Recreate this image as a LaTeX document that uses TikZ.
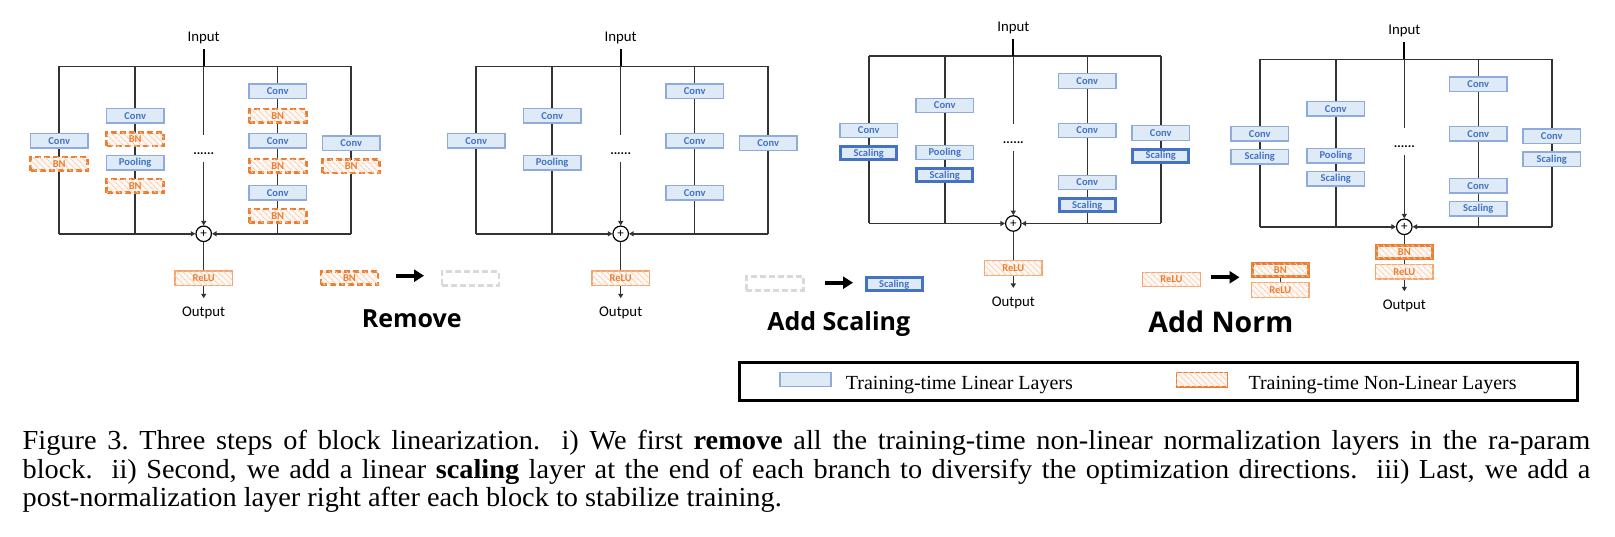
\documentclass[tikz,border=0pt]{standalone}
\usepackage{fontspec}
\setmainfont{Liberation Serif}
\newfontfamily\capfont[FakeStretch=1.03]{Liberation Serif}
\newfontfamily\calfont{Carlito}
\newfontfamily\segfont{Open Sans}
\usetikzlibrary{arrows.meta,patterns.meta}
\definecolor{linf}{HTML}{DEEBF7}
\definecolor{linb}{HTML}{8FAADC}
\definecolor{thickb}{HTML}{4472C4}
\definecolor{txtb}{HTML}{4472C4}
\definecolor{orng}{HTML}{ED7D31}
\definecolor{relub}{HTML}{F4A46E}
\definecolor{hatchbg}{HTML}{FFF9F5}
\definecolor{hatchc}{HTML}{F9D0B4}
\definecolor{wire}{HTML}{333333}
\definecolor{ghostc}{HTML}{D9D9D9}
\tikzset{
  wire/.style={draw=wire, line width=1.5},
  tip/.style={-{Triangle[width=5pt,length=4.5pt]}},
  bigarr/.style={line width=4, -{Triangle[width=12pt,length=10pt]}},
  lin/.style={draw=linb, fill=linf, line width=1.3, minimum width=57.5, minimum height=14.5,
    inner sep=0, text=txtb, font=\calfont\bfseries\fontsize{10.5}{12}\selectfont},
  linthick/.style={lin, draw=thickb, line width=3, minimum width=56, minimum height=13},
  nonlin/.style={draw=relub, line width=1.3, fill=hatchbg, minimum width=57.5, minimum height=14.5,
    inner sep=0, text=orng, font=\calfont\bfseries\fontsize{10.5}{12}\selectfont,
    postaction={pattern={Lines[angle=-45,distance=4pt,line width=1.1pt]}, pattern color=hatchc}},
  bnd/.style={nonlin, draw=orng, line width=2.6, dash pattern=on 6pt off 3pt, minimum width=57, minimum height=13.5},
  bnthick/.style={nonlin, draw=orng, line width=3, minimum width=56, minimum height=13},
  ghost/.style={draw=ghostc, line width=2.6, dash pattern=on 6pt off 3pt, minimum width=57, minimum height=13.5, inner sep=0},
  sumnode/.style={circle, draw=black, line width=1.2, fill=white, minimum size=15.5, inner sep=0,
    font=\calfont\fontsize{13}{13}\selectfont},
  iolabel/.style={inner sep=0, font=\calfont\fontsize{14.8}{17}\selectfont},
  dotsnode/.style={inner sep=0, anchor=base, font=\calfont\bfseries\fontsize{13}{13}\selectfont},
  steplabel/.style={inner sep=0, anchor=base, font=\segfont\bfseries\fontsize{25}{30}\selectfont},
  legtext/.style={inner sep=0, anchor=base west, font=\fontsize{20}{24}\selectfont},
  captext/.style={inner sep=0, anchor=base west, font=\capfont\fontsize{27.5}{30}\selectfont},
}
\newcommand\panelframe[1]{%
  \draw[wire] (-144.5,0) -- (147.5,0);
  \draw[wire] (-144.5,0) -- (-144.5,167.5);
  \draw[wire] (147.5,0) -- (147.5,167.5);
  \draw[wire] (-68.5,0) -- (-68.5,167.5);
  \draw[wire] (74,0) -- (74,167.5);
  \node[sumnode] (#1sum) at (0,167.5) {+};
  \node[iolabel] (#1input) at (0,-28) {Input};
  \coordinate (#1in) at (0,-17);
  \coordinate (#1top) at (0,0);
  \coordinate (#1brk) at (0,68.5);
  \coordinate (#1res) at (0,95.5);
  \node[dotsnode] (#1dots) at (0,88) {......};
  \draw[wire, line width=2.2, draw=black] (#1in) -- (#1top);
  \draw[wire] (#1top) -- (#1brk);
  \draw[wire,tip] (#1res) -- (#1sum.north);
  \coordinate (#1bl) at (-144.5,167.5);
  \coordinate (#1br) at (147.5,167.5);
  \draw[wire,tip] (#1bl) -- (#1sum.west);
  \draw[wire,tip] (#1br) -- (#1sum.east);
  \coordinate (#1oe) at (0,232);
  \node[iolabel] (#1output) at (0,246.4) {Output};
  \draw[wire,tip] (#1sum.south) -- (#1oe);
}
\begin{document}
\begin{tikzpicture}[x=1pt,y=-1pt]
\useasboundingbox (0,0) rectangle (1615,537);
\fill[white] (0,0) rectangle (1615,537);

% ---------------- Panel 1 ----------------
\begin{scope}[shift={(203.7,66.3)}]
  \panelframe{p1}
  \node[lin] (p1a1) at (-144.5,74.5) {Conv};
  \node[bnd] (p1a2) at (-144.5,97.5) {BN};
  \node[lin] (p1b1) at (-68.5,49.5) {Conv};
  \node[bnd] (p1b2) at (-68.5,73) {BN};
  \node[lin] (p1b3) at (-68.5,96.5) {Pooling};
  \node[bnd] (p1b4) at (-68.5,119.5) {BN};
  \node[lin] (p1d1) at (74,25) {Conv};
  \node[bnd] (p1d2) at (74,49.5) {BN};
  \node[lin] (p1d3) at (74,74.5) {Conv};
  \node[bnd] (p1d4) at (74,99.5) {BN};
  \node[lin] (p1d5) at (74,126.5) {Conv};
  \node[bnd] (p1d6) at (74,149.5) {BN};
  \node[lin] (p1e1) at (147.5,77) {Conv};
  \node[bnd] (p1e2) at (147.5,100) {BN};
  \node[nonlin] (p1r) at (0,212) {ReLU};
\end{scope}

% ---------------- Remove ----------------
\node[bnd] (rm1) at (349.5,278) {BN};
\node[ghost] (rm2) at (470.4,278.5) {};
\coordinate (rmA) at (396,275.7);
\coordinate (rmB) at (424,275.7);
\draw[bigarr] (rmA) -- (rmB);
\node[steplabel] (rmt) at (411.7,328) {Remove};

% ---------------- Panel 2 ----------------
\begin{scope}[shift={(620.7,66.3)}]
  \panelframe{p2}
  \node[lin] (p2a1) at (-144.5,74.5) {Conv};
  \node[lin] (p2b1) at (-68.5,49.5) {Conv};
  \node[lin] (p2b3) at (-68.5,96.5) {Pooling};
  \node[lin] (p2d1) at (74,25) {Conv};
  \node[lin] (p2d3) at (74,74.5) {Conv};
  \node[lin] (p2d5) at (74,126.5) {Conv};
  \node[lin] (p2e1) at (147.5,77) {Conv};
  \node[nonlin] (p2r) at (0,212) {ReLU};
\end{scope}

% ---------------- Add Scaling ----------------
\node[ghost] (as1) at (774.7,283.5) {};
\node[linthick] (as2) at (894.2,284.5) {Scaling};
\coordinate (asA) at (825,282.7);
\coordinate (asB) at (853,282.7);
\draw[bigarr] (asA) -- (asB);
\node[steplabel] (ast) at (838.8,330.5) {Add Scaling};

% ---------------- Panel 3 ----------------
\begin{scope}[shift={(1013.3,56)}]
  \panelframe{p3}
  \node[lin] (p3a1) at (-144.5,74.5) {Conv};
  \node[linthick] (p3a2) at (-144.5,97.5) {Scaling};
  \node[lin] (p3b1) at (-68.5,49.5) {Conv};
  \node[lin] (p3b3) at (-68.5,96.5) {Pooling};
  \node[linthick] (p3b4) at (-68.5,119.5) {Scaling};
  \node[lin] (p3d1) at (74,25) {Conv};
  \node[lin] (p3d3) at (74,74.5) {Conv};
  \node[lin] (p3d5) at (74,126.5) {Conv};
  \node[linthick] (p3d6) at (74,149.5) {Scaling};
  \node[lin] (p3e1) at (147.5,77) {Conv};
  \node[linthick] (p3e2) at (147.5,100) {Scaling};
  \node[nonlin] (p3r) at (0,212) {ReLU};
\end{scope}

% ---------------- Add Norm ----------------
\node[nonlin] (an1) at (1171.5,279.5) {ReLU};
\coordinate (anA) at (1211,277.3);
\coordinate (anB) at (1239.5,277.3);
\draw[bigarr] (anA) -- (anB);
\node[bnthick] (an2) at (1280.3,270.2) {BN};
\node[nonlin] (an3) at (1280.3,290) {ReLU};
\draw[wire] (an2.south) -- (an3.north);
\node[steplabel, font=\segfont\bfseries\fontsize{28.5}{34}\selectfont] (ant) at (1220.8,333) {Add Norm};

% ---------------- Panel 4 ----------------
\begin{scope}[shift={(1404.3,59.3)}]
  \panelframe{p4}
  \node[lin] (p4a1) at (-144.5,74.5) {Conv};
  \node[lin] (p4a2) at (-144.5,97.5) {Scaling};
  \node[lin] (p4b1) at (-68.5,49.5) {Conv};
  \node[lin] (p4b3) at (-68.5,96.5) {Pooling};
  \node[lin] (p4b4) at (-68.5,119.5) {Scaling};
  \node[lin] (p4d1) at (74,25) {Conv};
  \node[lin] (p4d3) at (74,74.5) {Conv};
  \node[lin] (p4d5) at (74,126.5) {Conv};
  \node[lin] (p4d6) at (74,149.5) {Scaling};
  \node[lin] (p4e1) at (147.5,77) {Conv};
  \node[lin] (p4e2) at (147.5,100) {Scaling};
  \node[bnthick] (p4n) at (0,192.5) {BN};
  \node[nonlin] (p4r) at (0,212.5) {ReLU};
\end{scope}

% ---------------- Legend ----------------
\draw[line width=3] (739,362.3) rectangle (1577.3,400);
\node[lin, minimum width=51, minimum height=14.2, line width=1.6] (lg1) at (805.5,379.5) {};
\node[legtext] (lg1t) at (845.7,389) {Training-time Linear Layers};
\node[nonlin, draw=orng, minimum width=51, minimum height=14.2, line width=1.6] (lg2) at (1201.8,379.8) {};
\node[legtext] (lg2t) at (1248.3,389) {Training-time Non-Linear Layers};

% ---------------- Caption ----------------
\node[captext] (cap1) at (22.5,449.5) {\makebox[1567.5pt][s]{Figure 3.\ Three steps of block linearization.\ \ i) We first \textbf{remove} all the training-time non-linear normalization layers in the ra-param}};
\node[captext] (cap2) at (22.5,478) {\makebox[1567.5pt][s]{block.\ \ ii) Second, we add a linear \textbf{scaling} layer at the end of each branch to diversify the optimization directions.\ \ iii) Last, we add a}};
\node[captext] (cap3) at (22.5,506.5) {post-normalization layer right after each block to stabilize training.};
\end{tikzpicture}
\end{document}
